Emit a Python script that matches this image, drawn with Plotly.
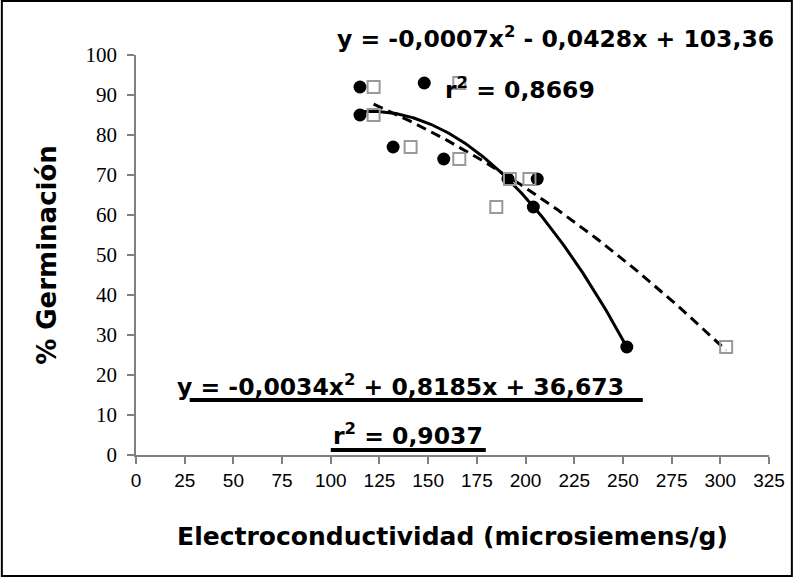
import numpy as np
import plotly.graph_objects as go

# Data
ec_circles = [115, 115, 132, 148, 158, 191, 206, 204, 252]
germ_circles = [92, 85, 77, 93, 74, 69, 69, 62, 27]
ec_squares = [122, 122, 141, 166, 166, 192, 202, 185, 303]
germ_squares = [92, 85, 77, 93, 74, 69, 69, 62, 27]

# Trendline coefficients (a, b, c) as printed on the chart
coef_circles = [-0.0034, 0.8185, 36.673]
coef_squares = [-0.0007, -0.0428, 103.36]

x_ticks = list(range(0, 326, 25))
y_ticks = list(range(0, 101, 10))

W, H = 797, 577
L, R, T, B = 136, 24, 55, 122
PW, PH = W - L - R, H - T - B


def px(xp):
    return (xp - L) / PW


def py(yp):
    return (H - B - yp) / PH


def poly(c, xs):
    xs = np.asarray(xs, dtype=float)
    return c[0] * xs ** 2 + c[1] * xs + c[2]


xc = np.linspace(min(ec_circles), max(ec_circles), 120)
xs = np.linspace(min(ec_squares), max(ec_squares), 120)

fig = go.Figure()
fig.add_trace(go.Scatter(x=xc, y=poly(coef_circles, xc), mode="lines",
                         line=dict(color="black", width=3), showlegend=False,
                         hoverinfo="skip"))
fig.add_trace(go.Scatter(x=xs, y=poly(coef_squares, xs), mode="lines",
                         line=dict(color="black", width=3, dash="10px,6px"),
                         showlegend=False, hoverinfo="skip"))
fig.add_trace(go.Scatter(x=ec_circles, y=germ_circles, mode="markers",
                         marker=dict(symbol="circle", size=13, color="black"),
                         showlegend=False))
fig.add_trace(go.Scatter(x=ec_squares, y=germ_squares, mode="markers",
                         marker=dict(symbol="square-open", size=12,
                                     color="#999999", line=dict(width=2)),
                         showlegend=False))

axis_common = dict(showgrid=False, zeroline=False, showline=True,
                   linecolor="#808080", linewidth=1.5, ticks="outside",
                   ticklen=7, tickcolor="#808080", tickwidth=1.5)

fig.update_xaxes(range=[0, 325], tickvals=x_ticks,
                 ticktext=[str(v) for v in x_ticks],
                 tickfont=dict(family="Liberation Sans", size=19, color="black"),
                 title=dict(text="<b>Electroconductividad (microsiemens/g)</b>",
                            font=dict(family="DejaVu Sans", size=25, color="black"),
                            standoff=38),
                 **axis_common)
fig.update_yaxes(range=[0, 100], tickvals=y_ticks,
                 ticktext=[str(v) for v in y_ticks],
                 tickfont=dict(family="Liberation Serif", size=21, color="black"),
                 ticklabelstandoff=6,
                 title=dict(text="<b>% Germinación</b>",
                            font=dict(family="DejaVu Sans", size=26, color="black"),
                            standoff=21),
                 **axis_common)

eq_font = dict(family="DejaVu Sans", size=23.5, color="black")
ann = [
    dict(text="<b>y = -0,0007x<sup>2</sup> - 0,0428x + 103,36</b>", x=px(336), y=py(37)),
    dict(text="<b>r<sup>2</sup> = 0,8669</b>", x=px(445), y=py(88)),
    dict(text="<b>y = -0,0034x<sup>2</sup> + 0,8185x + 36,673</b>", x=px(175), y=py(385)),
    dict(text="<b>r<sup>2</sup> = 0,9037</b>", x=px(332), y=py(434)),
]
for a in ann:
    fig.add_annotation(xref="paper", yref="paper", xanchor="left", yanchor="middle",
                       showarrow=False, font=eq_font, **a)

shapes = [
    dict(type="line", x0=px(190), x1=px(646), y0=py(400), y1=py(400),
         line=dict(color="black", width=4)),
    dict(type="line", x0=px(332), x1=px(488), y0=py(450), y1=py(450),
         line=dict(color="black", width=4)),
    dict(type="rect", x0=px(1), x1=px(796), y0=py(1), y1=py(576),
         line=dict(color="black", width=2)),
]
for s in shapes:
    fig.add_shape(xref="paper", yref="paper", **s)

fig.update_layout(width=W, height=H, margin=dict(l=L, r=R, t=T, b=B),
                  plot_bgcolor="white", paper_bgcolor="white")

fig.write_html("out.html",
               config={"displayModeBar": False},
               post_script="document.body.style.margin='0';"
                           "document.body.style.overflow='hidden';")
